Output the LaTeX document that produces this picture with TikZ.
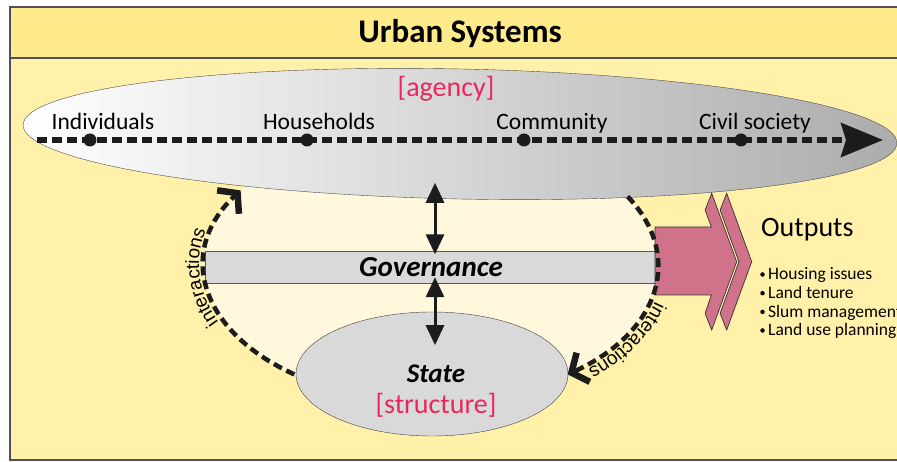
\documentclass[tikz,border=0pt]{standalone}
\usepackage{fontspec}
\setmainfont{Carlito}
\newfontfamily\arialfont{Liberation Sans}
\usetikzlibrary{shapes.geometric,arrows.meta,decorations.text}

\definecolor{titlebar}{HTML}{FFEA8C}
\definecolor{panel}{HTML}{FFF1AA}
\definecolor{cream}{HTML}{FFF8DC}
\definecolor{framegray}{HTML}{4F4F5E}
\definecolor{boxgray}{HTML}{D9D9D9}
\definecolor{tagred}{HTML}{E8275E}
\definecolor{outpink}{HTML}{D0738A}
\definecolor{inkblack}{HTML}{1C1C1C}

\newcommand\interfont{\arialfont\fontsize{19}{22}\selectfont}

\tikzset{
  actor/.style = {font=\fontsize{23.5}{28}\selectfont, anchor=base, inner sep=0pt},
  tag/.style = {text=tagred, font=\fontsize{28}{32}\selectfont, anchor=base, inner sep=0pt},
  member/.style = {circle, fill=inkblack, inner sep=0pt, minimum size=13pt},
  twoway/.style = {line width=3pt, inkblack,
    {Triangle[length=20pt,width=18pt]}-{Triangle[length=20pt,width=18pt]}},
  interplay/.style = {inkblack, line width=4.5pt, dash pattern=on 9pt off 5pt,
    -{Straight Barb[length=13pt, width=32pt, line width=6.5pt]}},
  agencyline/.style = {inkblack, line width=5.5pt, dash pattern=on 10pt off 5pt,
    -{Stealth[length=42pt, width=34pt, inset=5pt]}},
  outshape/.style = {fill=outpink, draw=gray!40!black, line width=0.7pt},
  outitem/.style = {font=\fontsize{17.5}{20}\selectfont, anchor=base west, inner sep=0pt},
  bul/.style = {circle, fill=black, inner sep=0pt, minimum size=4.5pt},
}

\begin{document}
\begin{tikzpicture}[x=1pt, y=1pt]
  \useasboundingbox (0,0) rectangle (897,462);

  % frame with title band
  \fill[panel] (10,2) rectangle (905,404);
  \fill[titlebar] (10,404) rectangle (905,455);
  \draw[framegray, line width=2pt] (10,404) -- (905,404);
  \draw[framegray, line width=2.5pt] (10,2) rectangle (905,455);
  \node[font=\bfseries\fontsize{33}{38}\selectfont, anchor=base] (title) at (460,419) {Urban Systems};

  % inner region closed by the interaction loops
  \coordinate (hub) at (431,197);
  \fill[cream] (hub) ellipse [x radius=227, y radius=137];

  % agency
  \node[ellipse, minimum width=874pt, minimum height=130pt, rotate=-1.2,
    left color=white, right color=gray!65, draw=gray!60!black, thin] (agency) at (460,328) {};
  \node[tag] (agtag) at (446,365) {[agency]};

  \coordinate (lineS) at (37,322);
  \coordinate (lineE) at (883,322);
  \draw[agencyline] (lineS) -- (lineE);
  \node[member] (m1) at (90,322) {};
  \node[member] (m2) at (307,322) {};
  \node[member] (m3) at (524,322) {};
  \node[member] (m4) at (741,322) {};
  \node[actor] (ind) at ([xshift=13pt, yshift=10pt]m1.center) {Individuals};
  \node[actor] (hh) at ([xshift=12pt, yshift=10pt]m2.center) {Households};
  \node[actor] (com) at ([xshift=28pt, yshift=10pt]m3.center) {Community};
  \node[actor] (civ) at ([xshift=14pt, yshift=10pt]m4.center) {Civil society};

  % governance and state
  \node[rectangle, draw=gray!70!black, fill=boxgray, minimum width=451pt, minimum height=32pt,
    inner sep=0pt, font=\bfseries\itshape\fontsize{29}{34}\selectfont] (gov) at (431,195) {Governance};
  \node[ellipse, draw=gray!50!black, fill=boxgray, minimum width=272pt, minimum height=124pt] (state) at (432,88) {};
  \node[font=\bfseries\itshape\fontsize{27}{30}\selectfont, anchor=base, inner sep=0pt] (sttxt) at (436,79) {State};
  \node[tag] (sttag) at (436,48) {[structure]};

  % outputs
  \filldraw[outshape] (655,235) -- (711.4,235) -- (705.1,252) -- (711.7,268.7) -- (736.7,200.3)
    -- (711.7,132) -- (705.1,148.6) -- (711.4,167) -- (655,167) -- cycle;
  \filldraw[outshape] (726.7,268.7) -- (751.7,200.3) -- (726.7,132) -- (720.1,148.6)
    -- (738.9,200.3) -- (720.1,252) -- cycle;
  \node[font=\fontsize{28}{32}\selectfont, anchor=base west, inner sep=0pt] (outs) at (761,225) {Outputs};
  \node[outitem] (o1) at (768,182) {Housing issues};
  \node[outitem] (o2) at (768,163.3) {Land tenure};
  \node[outitem] (o3) at (768,144.6) {Slum management};
  \node[outitem] (o4) at (768,126) {Land use planning};
  \node[bul] at ([xshift=-5.5pt, yshift=5.5pt]o1.base west) {};
  \node[bul] at ([xshift=-5.5pt, yshift=5.5pt]o2.base west) {};
  \node[bul] at ([xshift=-5.5pt, yshift=5.5pt]o3.base west) {};
  \node[bul] at ([xshift=-5.5pt, yshift=5.5pt]o4.base west) {};

  % interaction loops
  \draw[interplay] (hub) ++(233:227 and 137) arc[start angle=233, end angle=147, x radius=227, y radius=137];
  \draw[interplay] (hub) ++(30:227 and 137) arc[start angle=30, end angle=-53, x radius=227, y radius=137];
  \path[decorate, decoration={text along path, text align=center, text={|\interfont|interactions}}]
    (hub) ++(212:232 and 142) arc[start angle=212, end angle=157, x radius=232, y radius=142];
  \path[decorate, decoration={text along path, text align=center, text={|\interfont|interactions}}]
    (hub) ++(0:232 and 142) arc[start angle=0, end angle=-58, x radius=232, y radius=142];

  % agency <-> governance <-> state
  \draw[twoway] ([xshift=4pt, yshift=-3.5pt]gov.north) -- ([xshift=4pt, yshift=68pt]gov.north);
  \draw[twoway] ([xshift=4pt, yshift=6pt]gov.south) -- ([xshift=4pt, yshift=-62pt]gov.south);
\end{tikzpicture}
\end{document}
